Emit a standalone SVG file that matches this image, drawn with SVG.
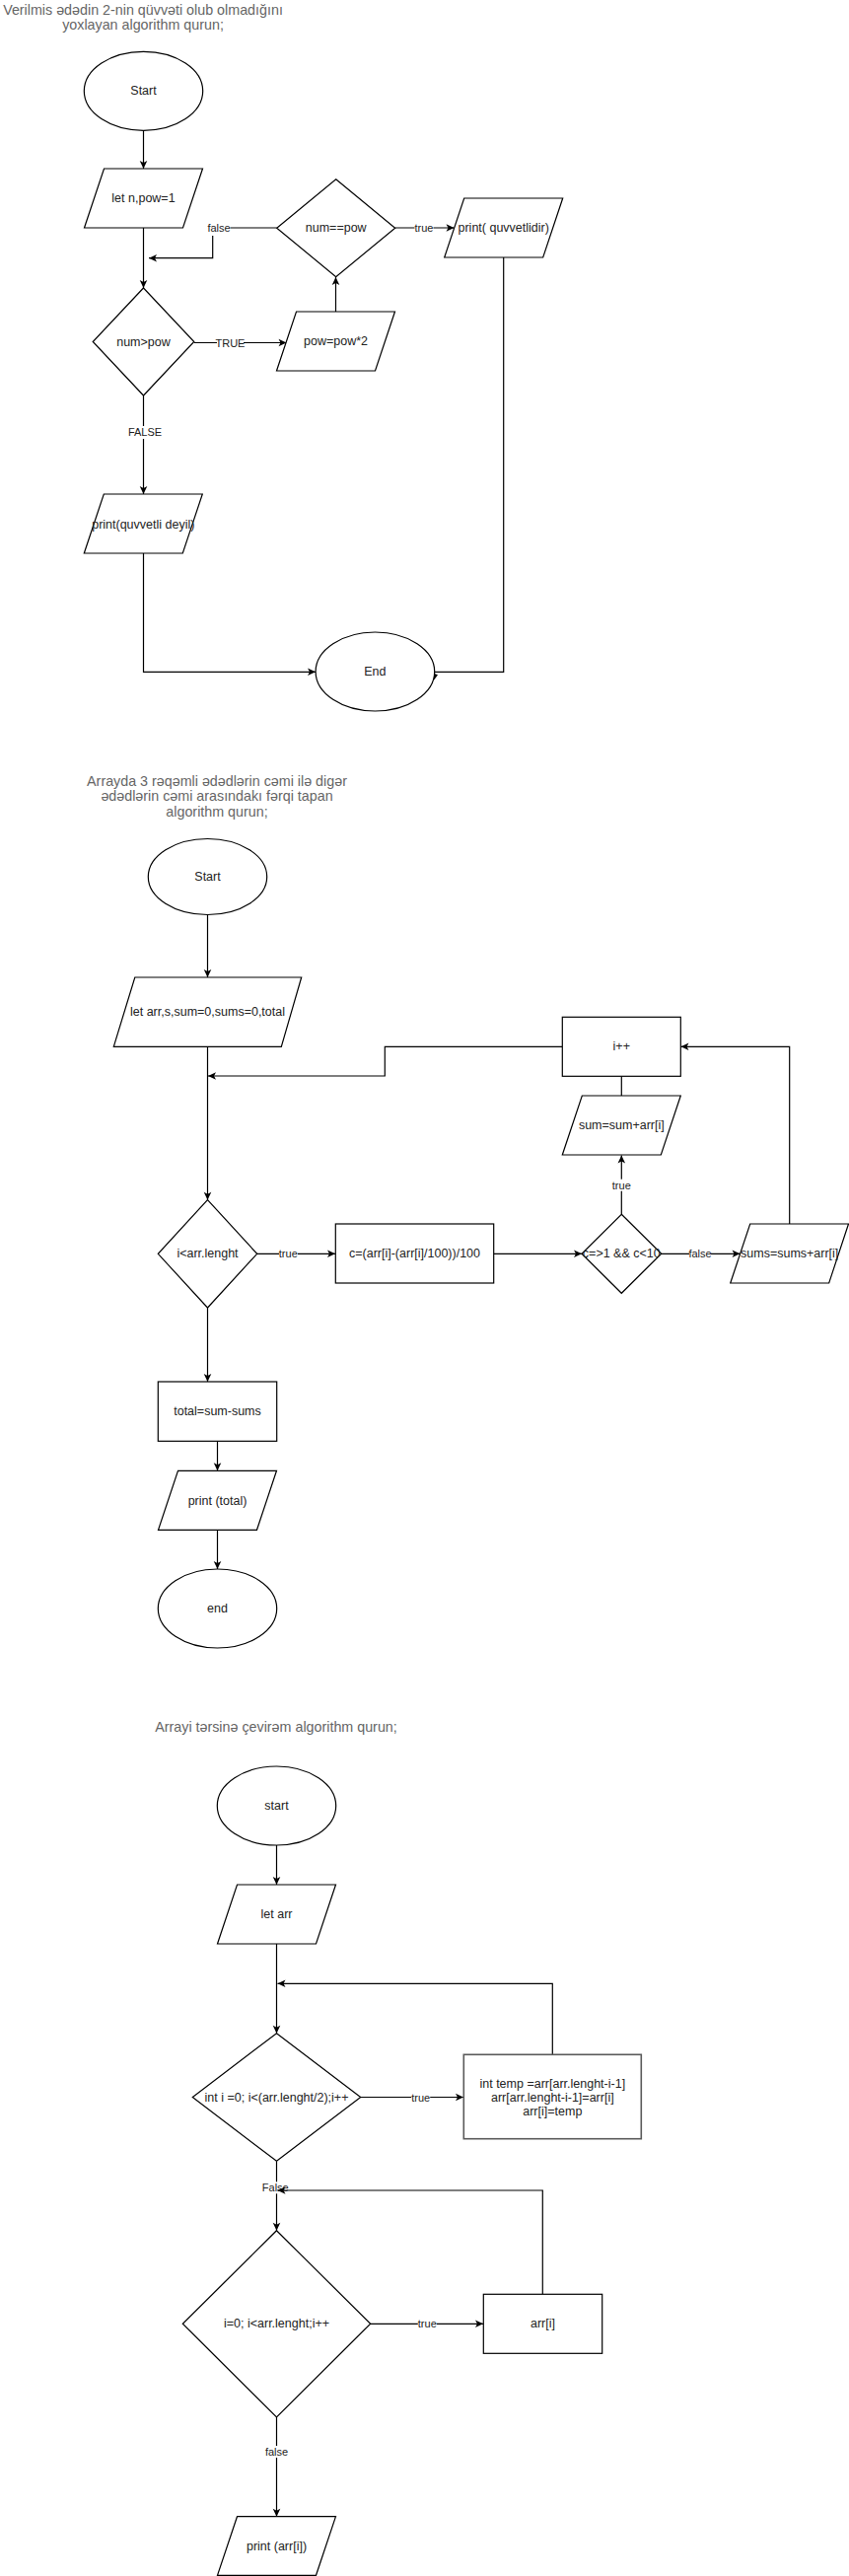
<svg xmlns="http://www.w3.org/2000/svg" width="861" height="2612" viewBox="0 0 861 2612">
<style>
.bg{fill:#fff}
.n{fill:#fff;stroke:#000;stroke-width:1.2}
.n2{fill:#fff;stroke:#5a5a5a;stroke-width:1.6}
.t{font-family:"Liberation Sans",Arial,Helvetica,sans-serif;font-size:12.5px;fill:#222;text-anchor:middle;dominant-baseline:central}
.ti{font-family:"Liberation Sans",Arial,Helvetica,sans-serif;font-size:14.3px;fill:#666;text-anchor:middle;dominant-baseline:central}
.e{fill:none;stroke:#000;stroke-width:1.2}
.ea{fill:none;stroke:#000;stroke-width:1.2;marker-end:url(#arr)}
.lb{fill:#fff}
.l{font-family:"Liberation Sans",Arial,Helvetica,sans-serif;font-size:11px;fill:#222;text-anchor:middle;dominant-baseline:central}
</style>
<defs>
<marker id="arr" markerUnits="userSpaceOnUse" markerWidth="10" markerHeight="10" viewBox="0 0 10 10" refX="9" refY="5" orient="auto">
<path d="M1,1.2 L9,5 L1,8.8 L3,5 Z" fill="#000"/>
</marker>
</defs>
<rect class="bg" x="0" y="0" width="861" height="2612"/>

<!-- Titles -->
<g id="title1">
<text class="ti" x="145" y="10">Verilmis ədədin 2-nin qüvvəti olub olmadığını</text>
<text class="ti" x="145" y="25">yoxlayan algorithm qurun;</text>
</g>
<g id="title2">
<text class="ti" x="220" y="791.7">Arrayda 3 rəqəmli ədədlərin cəmi ilə digər</text>
<text class="ti" x="220" y="807.3">ədədlərin cəmi arasındakı fərqi tapan</text>
<text class="ti" x="220" y="822.7">algorithm qurun;</text>
</g>
<g id="title3">
<text class="ti" x="280" y="1751">Arrayi tərsinə çevirəm algorithm qurun;</text>
</g>

<!-- Connectors -->
<g id="connectors">
<!-- Section 1 -->
<path class="ea" d="M145.5,132.5 L145.5,171"/>
<path class="ea" d="M145.5,231 L145.5,292"/>
<path class="ea" d="M197,347.5 L290.5,347.5"/>
<rect class="lb" x="220" y="341.5" width="27" height="12"/>
<text class="l" x="233.5" y="347.5">TRUE</text>
<path class="ea" d="M340.5,316 L340.5,281"/>
<path class="ea" d="M400.7,231 L460.5,231"/>
<rect class="lb" x="420.5" y="225" width="19" height="12"/>
<text class="l" x="430" y="231">true</text>
<path class="ea" d="M280.7,231 L215.7,231 L215.7,261.7 L151,261.7"/>
<rect class="lb" x="210.5" y="225" width="23" height="14"/>
<text class="l" x="222" y="231">false</text>
<path class="ea" d="M145.5,401 L145.5,501"/>
<rect class="lb" x="131" y="432" width="32" height="13"/>
<text class="l" x="147" y="438.3">FALSE</text>
<path class="ea" d="M145.5,561 L145.5,681.3 L320,681.3"/>
<path class="e" d="M510.7,261 L510.7,681.3 L440.7,681.3"/>
<path d="M440.2,689.5 L439.2,682.5 L444,684.2 Z" fill="#000"/>

<!-- Section 2 -->
<path class="ea" d="M210.5,928 L210.5,991"/>
<path class="ea" d="M210.5,1061 L210.5,1216.7"/>
<path class="ea" d="M570.3,1061.3 L390.3,1061.3 L390.3,1091 L211,1091"/>
<path class="ea" d="M260.7,1271.3 L340,1271.3"/>
<rect class="lb" x="283" y="1265.3" width="19" height="12"/>
<text class="l" x="292.3" y="1271.3">true</text>
<path class="ea" d="M500.7,1271.3 L590,1271.3"/>
<path class="ea" d="M630.3,1231.3 L630.3,1171.5"/>
<rect class="lb" x="620.8" y="1195.7" width="19" height="12"/>
<text class="l" x="630.3" y="1201.7">true</text>
<path class="e" d="M630.3,1091.3 L630.3,1111"/>
<path class="ea" d="M670.7,1271.3 L750.5,1271.3"/>
<rect class="lb" x="699" y="1265.3" width="22" height="12"/>
<text class="l" x="710" y="1271.3">false</text>
<path class="ea" d="M800.7,1241 L800.7,1061.3 L690.5,1061.3"/>
<path class="ea" d="M210.5,1326 L210.5,1401"/>
<path class="ea" d="M220.5,1461.3 L220.5,1491.3"/>
<path class="ea" d="M220.5,1551.3 L220.5,1591"/>

<!-- Section 3 -->
<path class="ea" d="M280.5,1871 L280.5,1911"/>
<path class="ea" d="M280.5,1971 L280.5,2061.7"/>
<path class="ea" d="M560.3,2083.3 L560.3,2011.3 L281.5,2011.3"/>
<path class="ea" d="M365.7,2126.5 L470,2126.5"/>
<rect class="lb" x="417.2" y="2120.5" width="19" height="12"/>
<text class="l" x="426.7" y="2126.5">true</text>
<path class="ea" d="M280.5,2191.3 L280.5,2261.7"/>
<rect class="lb" x="267" y="2212.3" width="25" height="12"/>
<text class="l" x="279.3" y="2218.3">False</text>
<path class="ea" d="M550.3,2326.3 L550.3,2221 L281.5,2221"/>
<path class="ea" d="M375.7,2356.3 L490,2356.3"/>
<rect class="lb" x="423.8" y="2350.3" width="19" height="12"/>
<text class="l" x="433.3" y="2356.3">true</text>
<path class="ea" d="M280.5,2451 L280.5,2551.7"/>
<rect class="lb" x="269.5" y="2480" width="22" height="12"/>
<text class="l" x="280.5" y="2486">false</text>
</g>

<!-- Section 1 nodes -->
<g id="s1_start">
<ellipse class="n" cx="145.5" cy="92.3" rx="60.2" ry="40"/>
<text class="t" x="145.5" y="92.3">Start</text>
</g>
<g id="s1_let">
<polygon class="n" points="105.5,171 205.5,171 185.5,231 85.5,231"/>
<text class="t" x="145.5" y="201">let n,pow=1</text>
</g>
<g id="s1_cond1">
<polygon class="n" points="145.5,292 196.8,346.5 145.5,401 94.2,346.5"/>
<text class="t" x="145.5" y="346.5">num&gt;pow</text>
</g>
<g id="s1_pow">
<polygon class="n" points="300.5,316 400.5,316 380.5,376 280.5,376"/>
<text class="t" x="340.5" y="346">pow=pow*2</text>
</g>
<g id="s1_cond2">
<polygon class="n" points="340.7,181.7 400.7,231.2 340.7,280.7 280.7,231.2"/>
<text class="t" x="340.7" y="231.2">num==pow</text>
</g>
<g id="s1_print_yes">
<polygon class="n" points="470.7,201 570.7,201 550.7,261 450.7,261"/>
<text class="t" x="510.7" y="231">print( quvvetlidir)</text>
</g>
<g id="s1_print_no">
<polygon class="n" points="105.3,501 205.3,501 185.3,561 85.3,561"/>
<text class="t" x="145.3" y="531.5">print(quvvetli deyil)</text>
</g>
<g id="s1_end">
<ellipse class="n" cx="380.4" cy="681" rx="60.3" ry="40"/>
<text class="t" x="380.4" y="681">End</text>
</g>

<!-- Section 2 nodes -->
<g id="s2_start">
<ellipse class="n" cx="210.5" cy="889" rx="60.2" ry="38.5"/>
<text class="t" x="210.5" y="889">Start</text>
</g>
<g id="s2_let">
<polygon class="n" points="136.8,991 305.7,991 285.3,1061.3 115.3,1061.3"/>
<text class="t" x="210.5" y="1026">let arr,s,sum=0,sums=0,total</text>
</g>
<g id="s2_cond">
<polygon class="n" points="210.5,1216.7 260.7,1271.3 210.5,1326 160.3,1271.3"/>
<text class="t" x="210.5" y="1271.3">i&lt;arr.lenght</text>
</g>
<g id="s2_c">
<rect class="n" x="340.3" y="1241" width="160.4" height="60"/>
<text class="t" x="420.5" y="1271">c=(arr[i]-(arr[i]/100))/100</text>
</g>
<g id="s2_cond2">
<polygon class="n" points="630.3,1231.3 670.7,1271.3 630.3,1311.3 590,1271.3"/>
<text class="t" x="630.3" y="1271.3">c=&gt;1 &amp;&amp; c&lt;10</text>
</g>
<g id="s2_sum">
<polygon class="n" points="590.3,1111 690.3,1111 670.3,1171 570.3,1171"/>
<text class="t" x="630.3" y="1141">sum=sum+arr[i]</text>
</g>
<g id="s2_inc">
<rect class="n" x="570.3" y="1031.3" width="120" height="60"/>
<text class="t" x="630.3" y="1061.3">i++</text>
</g>
<g id="s2_sums">
<polygon class="n" points="760.7,1241 860.5,1241 840.7,1301 740.7,1301"/>
<text class="t" x="800.7" y="1271">sums=sums+arr[i]</text>
</g>
<g id="s2_total">
<rect class="n" x="160.3" y="1401" width="120.4" height="60.3"/>
<text class="t" x="220.5" y="1431">total=sum-sums</text>
</g>
<g id="s2_print">
<polygon class="n" points="180.5,1491.3 280.5,1491.3 260.5,1551.3 160.5,1551.3"/>
<text class="t" x="220.5" y="1521.5">print (total)</text>
</g>
<g id="s2_end">
<ellipse class="n" cx="220.5" cy="1631" rx="60.2" ry="40"/>
<text class="t" x="220.5" y="1631">end</text>
</g>

<!-- Section 3 nodes -->
<g id="s3_start">
<ellipse class="n" cx="280.5" cy="1831" rx="60.2" ry="40"/>
<text class="t" x="280.5" y="1831">start</text>
</g>
<g id="s3_let">
<polygon class="n" points="240.5,1911 340.5,1911 320.5,1971 220.5,1971"/>
<text class="t" x="280.5" y="1941">let arr</text>
</g>
<g id="s3_cond1">
<polygon class="n" points="280.5,2061.7 365.7,2126.5 280.5,2191.3 195.3,2126.5"/>
<text class="t" x="280.5" y="2126.5">int i =0; i&lt;(arr.lenght/2);i++</text>
</g>
<g id="s3_swap">
<rect class="n2" x="470.3" y="2083.3" width="180" height="85.4"/>
<text class="t" x="560.3" y="2113">int temp =arr[arr.lenght-i-1]</text>
<text class="t" x="560.3" y="2127">arr[arr.lenght-i-1]=arr[i]</text>
<text class="t" x="560.3" y="2141">arr[i]=temp</text>
</g>
<g id="s3_cond2">
<polygon class="n" points="280.5,2261.7 375.7,2356.3 280.5,2451 185.3,2356.3"/>
<text class="t" x="280.5" y="2356.3">i=0; i&lt;arr.lenght;i++</text>
</g>
<g id="s3_arri">
<rect class="n" x="490.3" y="2326.3" width="120.4" height="60"/>
<text class="t" x="550.5" y="2356.3">arr[i]</text>
</g>
<g id="s3_print">
<polygon class="n" points="240.5,2551.7 340.5,2551.7 320.5,2611.3 220.5,2611.3"/>
<text class="t" x="280.5" y="2582">print (arr[i])</text>
</g>
</svg>
